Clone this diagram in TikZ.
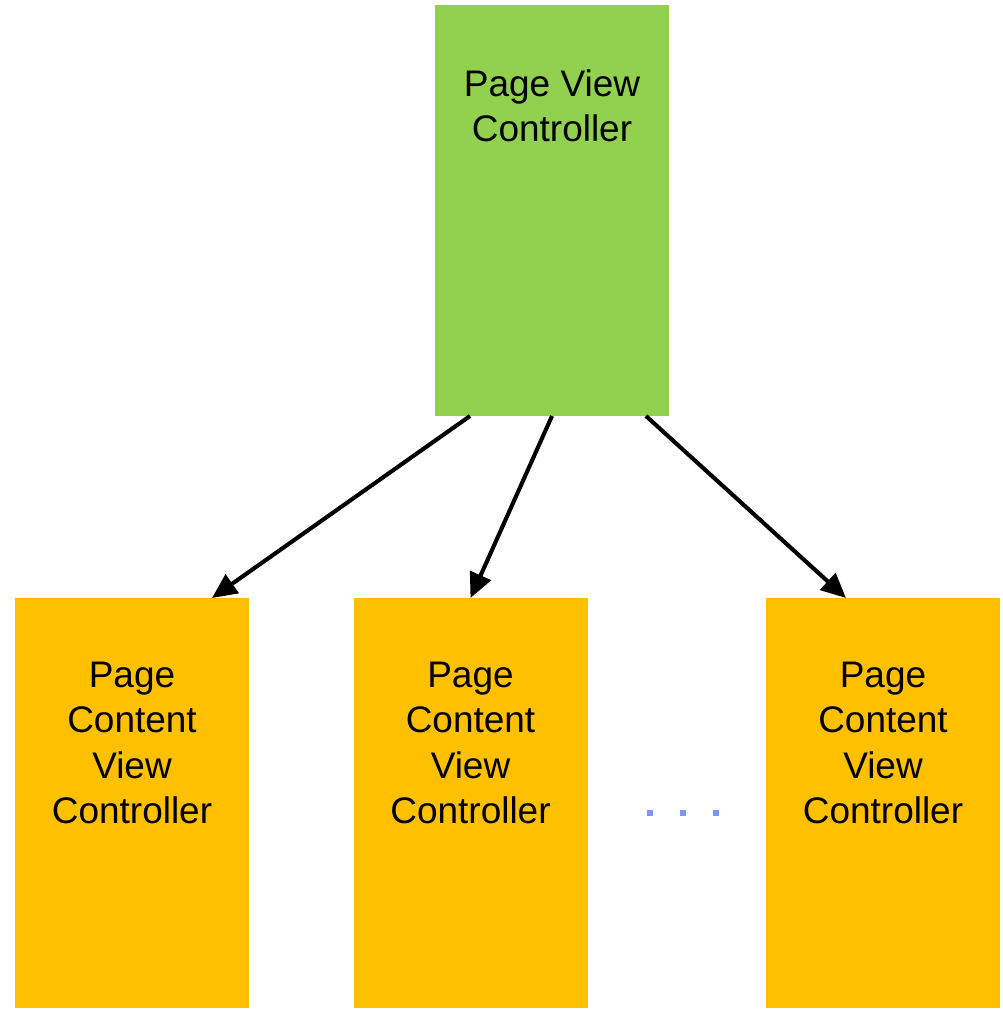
\documentclass[tikz,border=0pt]{standalone}
\usepackage{fontspec}
\setmainfont{Liberation Sans}
\usetikzlibrary{arrows.meta, positioning, calc}
\definecolor{pvgreen}{HTML}{92D050}
\definecolor{pcgold}{HTML}{FFC000}
\definecolor{dotblue}{HTML}{7F95F7}

\tikzset{
  ctrlbox/.style={minimum width=5.85cm, minimum height=10.25cm, inner sep=0pt, outer sep=0pt},
  boxtext/.style={font=\fontsize{26.3}{32.2}\selectfont, align=center, inner sep=0pt, text=black},
  link/.style={-{Triangle[length=0.62cm, width=0.56cm]}, line width=2.9pt, black}
}

\begin{document}
\begin{tikzpicture}

% Background / bounding box
\fill[white] (0,0) rectangle (25.05,-25.225);
\useasboundingbox (0,0) rectangle (25.05,-25.225);

% =========== Page view controller ===========
\node[ctrlbox, fill=pvgreen, minimum height=10.275cm] (pvc) at (13.8,-5.2625) {};
\node[boxtext, below=1.6cm of pvc.north] (pvctext) {Page View\\Controller};

% =========== Page content view controllers ===========
\node[ctrlbox, fill=pcgold] (pcvc1) at (3.3,-20.075) {};
\node[ctrlbox, fill=pcgold] (pcvc2) at (11.7625,-20.075) {};
\node[ctrlbox, fill=pcgold] (pcvc3) at (22.075,-20.075) {};

\foreach \i in {1,2,3} {
  \node[boxtext, below=1.6cm of pcvc\i.north] (pcvctext\i) {Page\\Content\\View\\Controller};
}

% Ellipsis between second and third
\foreach \x in {16.25, 17.075, 17.9} {
  \fill[dotblue] (\x-0.075,-20.25) rectangle ++(0.15,-0.15);
}

% =========== Links ===========
\coordinate (outa) at ($(pvc.south west)+(0.875,0)$);
\coordinate (outc) at ($(pvc.south east)+(-0.575,0)$);
\coordinate (ina) at ($(pcvc1.north east)+(-0.925,0)$);
\coordinate (inc) at ($(pcvc3.north west)+(2,0)$);

\draw[link] (outa) -- (ina);
\draw[link] (pvc.south) -- (pcvc2.north);
\draw[link] (outc) -- (inc);

\end{tikzpicture}
\end{document}
